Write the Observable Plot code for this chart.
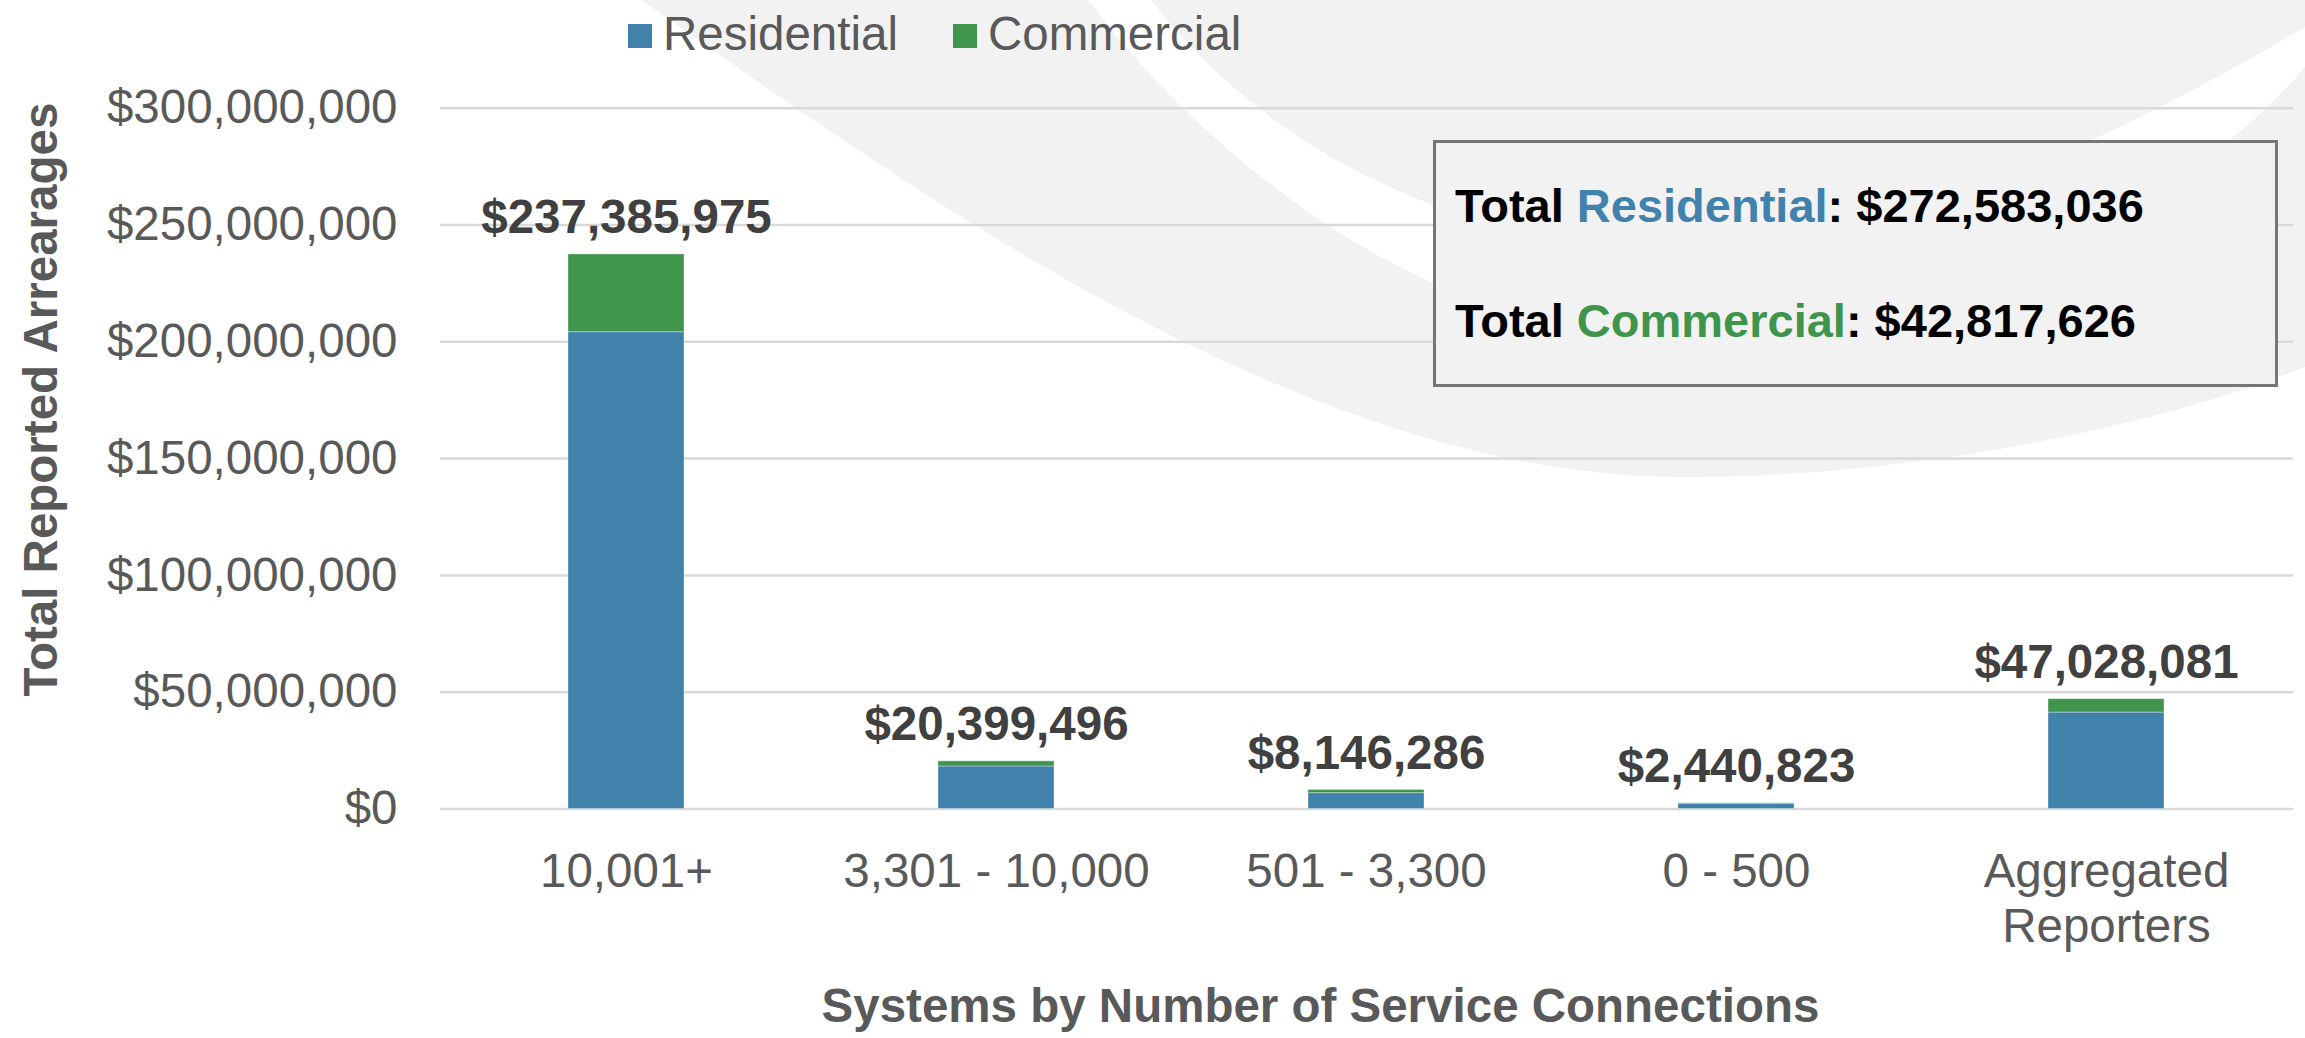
<!DOCTYPE html>
<html>
<head>
<meta charset="utf-8">
<script src="https://cdn.jsdelivr.net/npm/d3@7"></script>
<script src="https://cdn.jsdelivr.net/npm/@observablehq/plot@0.6"></script>
<style>
  html, body { margin: 0; padding: 0; background: #fff; }
  #wrap { position: relative; width: 2305px; height: 1038px; overflow: hidden; font-family: "Liberation Sans", Arial, sans-serif; }
  #bg, #fg, #chart { position: absolute; left: 0; top: 0; }
  #fg { pointer-events: none; }
</style>
</head>
<body>
<div id="wrap">
  <svg id="bg" width="2305" height="1038">
    <!-- decorative background swooshes -->
    <path fill="#f2f2f3" d="M641,0 C900,180 1300,480 1688,477 C1900,477 2150,430 2305,367 L2305,67 C2150,250 1850,340 1600,330 C1400,310 1200,150 1088,0 Z"/>
    <path fill="#f2f2f3" d="M1151,0 C1260,140 1420,225 1620,250 C1850,275 2150,120 2305,27 L2305,0 Z"/>
  </svg>
  <div id="chart"></div>
  <svg id="fg" width="2305" height="1038"></svg>
</div>
<script>
// ---- data ----
const categories = ["10,001+", "3,301 - 10,000", "501 - 3,300", "0 - 500", "Aggregated\nReporters"];
const residential = [204100000, 18200000, 6800000, 2200000, 41283000];
const commercial  = [33286000, 2199000, 1346000, 241000, 5745000];
const totals      = [237385975, 20399496, 8146286, 2440823, 47028081];
const seriesNames  = ["Residential", "Commercial"];
const seriesColors = ["#4182ad", "#3e954b"];
const summaryTotals = [272583036, 42817626];
const yTicks = [0, 50000000, 100000000, 150000000, 200000000, 250000000, 300000000];
const yTitle = "Total Reported Arrearages";
const xTitle = "Systems by Number of Service Connections";

// ---- tables built from arrays ----
const rows = [];
categories.forEach((c, i) => {
  rows.push({category: c, series: seriesNames[0], value: residential[i]});
  rows.push({category: c, series: seriesNames[1], value: commercial[i]});
});
const totalRows = categories.map((c, i) => ({category: c, total: totals[i]}));
const money = d3.format("$,");
const FONT = "Liberation Sans, Arial, sans-serif";

const chart = Plot.plot({
  width: 2305,
  height: 1038,
  marginTop: 107.7,
  marginBottom: 229.5,
  marginLeft: 440,
  marginRight: 12,
  style: {background: "transparent", fontFamily: FONT, color: "#595959", overflow: "visible"},
  x: {domain: categories, paddingInner: 0.686, paddingOuter: 0.343, label: null},
  y: {domain: [0, 300000000], label: null},
  color: {domain: seriesNames, range: seriesColors},
  marks: [
    Plot.ruleY(yTicks, {stroke: "#d9d9d9", strokeWidth: 2.5}),
    Plot.barY(rows, {x: "category", y: "value", fill: "series", stroke: "#ffffff", strokeOpacity: 0.35, strokeWidth: 1}),
    Plot.text(totalRows, {
      x: "category", y: "total", text: d => money(d.total),
      dy: -21, lineAnchor: "bottom", fontSize: 47.5, fontWeight: "bold", fill: "#404040"
    }),
    Plot.axisY({ticks: yTicks, tickFormat: money, tickSize: 0, tickPadding: 43, fontSize: 47.5, label: null}),
    Plot.axisX({tickSize: 0, tickPadding: 39.5, fontSize: 47.5, lineHeight: 1.15, label: null}),
    Plot.text([yTitle], {
      text: d => d, frameAnchor: "left", rotate: -90, dx: -399, dy: -59,
      textAnchor: "middle", lineAnchor: "middle", fontSize: 47.5, fontWeight: "bold", fill: "#595959"
    }),
    Plot.text([xTitle], {
      text: d => d, frameAnchor: "bottom", dx: -46.5, dy: 212.5,
      textAnchor: "middle", lineAnchor: "bottom", fontSize: 47.5, fontWeight: "bold", fill: "#595959"
    })
  ]
});
document.getElementById("chart").appendChild(chart);

// ---- legend and summary box (overlay) ----
const fg = d3.select("#fg").style("font-family", FONT);
const legendX = [628, 953];
seriesNames.forEach((name, i) => {
  fg.append("rect").attr("x", legendX[i]).attr("y", 24).attr("width", 24).attr("height", 24).attr("fill", seriesColors[i]);
  fg.append("text").attr("x", legendX[i] + 35).attr("y", 50).attr("font-size", 47.5).attr("fill", "#595959").text(name);
});
fg.append("rect").attr("x", 1434.5).attr("y", 141.5).attr("width", 842).attr("height", 244)
  .attr("fill", "#f2f2f3").attr("stroke", "#767676").attr("stroke-width", 3);
const baselines = [222, 337];
seriesNames.forEach((name, i) => {
  const t = fg.append("text").attr("x", 1455).attr("y", baselines[i]).attr("font-size", 47)
    .attr("font-weight", "bold").attr("fill", "#000");
  t.append("tspan").text("Total ");
  t.append("tspan").attr("fill", seriesColors[i]).text(name);
  t.append("tspan").text(": " + money(summaryTotals[i]));
});
</script>
</body>
</html>
